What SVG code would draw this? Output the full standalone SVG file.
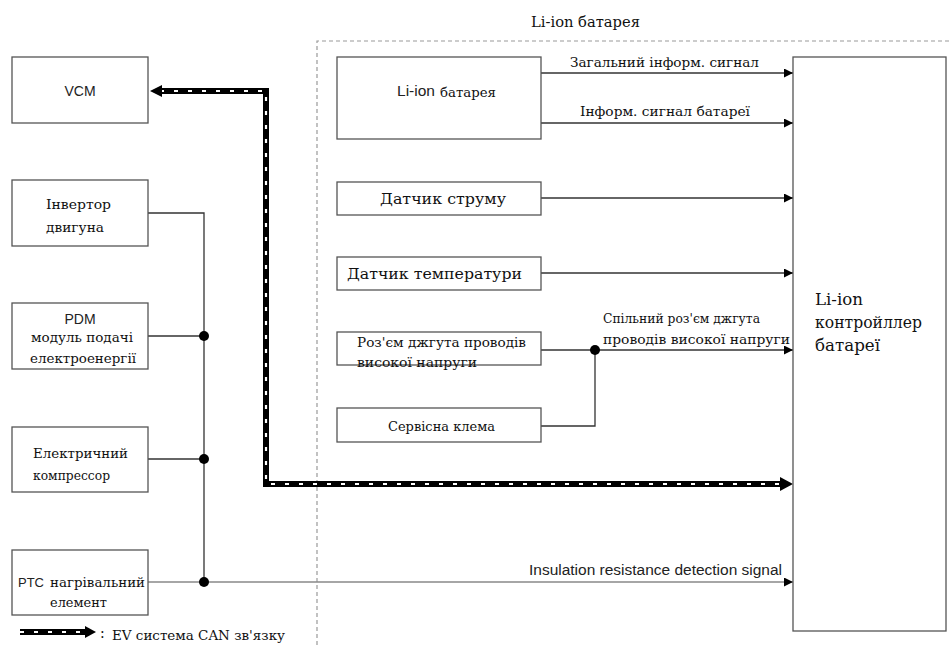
<svg xmlns="http://www.w3.org/2000/svg" width="951" height="645" viewBox="0 0 951 645">
<defs>
<marker id="arr" viewBox="0 0 10 10" refX="10" refY="5" markerWidth="9" markerHeight="9" markerUnits="userSpaceOnUse" orient="auto">
<path d="M0,0 L10,5 L0,10 Z" fill="#000"/>
</marker>
</defs>
<style>
.box{fill:#fff;stroke:#555;stroke-width:1.3}
.ln{fill:none;stroke:#333;stroke-width:1.3}
.gl{fill:none;stroke:#888;stroke-width:1.5}
.can{fill:none;stroke:#000;stroke-width:6}
.canw{fill:none;stroke:#fff;stroke-width:2.2;stroke-dasharray:4 10}
.dot{fill:#000}
.serif{font-family:"DejaVu Serif","Liberation Serif",serif;fill:#111}
.sans{font-family:"Liberation Sans",Arial,sans-serif;fill:#222}
</style>
<rect width="951" height="645" fill="#fff"/>
<path d="M317,645 L317,41 L951,41" fill="none" stroke="#999" stroke-width="1.2" stroke-dasharray="4 3"/>
<text class="serif" x="531" y="27" font-size="15" textLength="109" lengthAdjust="spacingAndGlyphs">Li-ion батарея</text>

<g id="connectors">
<path class="ln" d="M148,213 L204,213 L204,582"/>
<path class="ln" d="M148,336 L204,336"/>
<path class="ln" d="M148,459 L204,459"/>
<path class="gl" d="M148,582 L793,582" marker-end="url(#arr)"/>
<path class="ln" d="M541,73 L793,73" marker-end="url(#arr)"/>
<path class="ln" d="M541,123 L793,123" marker-end="url(#arr)"/>
<path class="ln" d="M541,198 L793,198" marker-end="url(#arr)"/>
<path class="ln" d="M541,273 L793,273" marker-end="url(#arr)"/>
<path class="ln" d="M541,350 L793,350" marker-end="url(#arr)"/>
<path class="ln" d="M541,426 L595,426 L595,350"/>
<circle class="dot" cx="204" cy="336" r="5"/>
<circle class="dot" cx="204" cy="459" r="5"/>
<circle class="dot" cx="204" cy="582" r="5"/>
<circle class="dot" cx="595" cy="350" r="5"/>
<path class="can" d="M160,91 L266,91 L266,484 L782,484"/>
<path class="canw" d="M160,91 L266,91 L266,484 L782,484"/>
<path d="M150,91 L162,85 L162,97 Z" fill="#000"/>
<path d="M793,484 L780,477 L780,491 Z" fill="#000"/>
<text class="serif" x="570" y="67" font-size="13" textLength="189" lengthAdjust="spacingAndGlyphs">Загальний інформ. сигнал</text>
<text class="serif" x="580" y="116" font-size="13" textLength="170" lengthAdjust="spacingAndGlyphs">Інформ. сигнал батареї</text>
<text class="serif" x="603" y="323" font-size="13" textLength="157" lengthAdjust="spacingAndGlyphs">Спільний роз'єм джгута</text>
<text class="serif" x="603" y="344" font-size="13" textLength="187" lengthAdjust="spacingAndGlyphs">проводів високої напруги</text>
<text class="sans" x="529" y="575" font-size="14" textLength="253" lengthAdjust="spacingAndGlyphs">Insulation resistance detection signal</text>
</g>

<g id="vcm">
<rect class="box" x="12" y="57" width="136" height="66"/>
<text class="sans" x="80" y="96" font-size="14" text-anchor="middle">VCM</text>
</g>
<g id="inverter">
<rect class="box" x="12" y="180" width="136" height="66"/>
<text class="serif" x="46" y="209" font-size="13" textLength="65" lengthAdjust="spacingAndGlyphs">Інвертор</text>
<text class="serif" x="46" y="232" font-size="13" textLength="58" lengthAdjust="spacingAndGlyphs">двигуна</text>
</g>
<g id="pdm">
<rect class="box" x="12" y="303" width="136" height="66"/>
<text class="sans" x="80" y="324" font-size="14" text-anchor="middle">PDM</text>
<text class="serif" x="31" y="342" font-size="12.5" textLength="102" lengthAdjust="spacingAndGlyphs">модуль подачі</text>
<text class="serif" x="30" y="363" font-size="12.5" textLength="106" lengthAdjust="spacingAndGlyphs">електроенергії</text>
</g>
<g id="compressor">
<rect class="box" x="12" y="427" width="136" height="65"/>
<text class="serif" x="33" y="458" font-size="13" textLength="95" lengthAdjust="spacingAndGlyphs">Електричний</text>
<text class="serif" x="33" y="480" font-size="13" textLength="77" lengthAdjust="spacingAndGlyphs">компрессор</text>
</g>
<g id="ptc">
<rect class="box" x="12" y="550" width="136" height="65"/>
<text class="sans" x="18" y="587" font-size="13">PTC</text>
<text class="serif" x="50" y="587" font-size="12.5" textLength="95" lengthAdjust="spacingAndGlyphs">нагрівальний</text>
<text class="serif" x="50" y="607" font-size="12.5" textLength="57" lengthAdjust="spacingAndGlyphs">елемент</text>
</g>

<g id="battery">
<rect class="box" x="337" y="57" width="204" height="82"/>
<text class="sans" x="397" y="96" font-size="14" textLength="38" lengthAdjust="spacingAndGlyphs">Li-ion</text>
<text class="serif" x="440" y="97" font-size="13" textLength="56" lengthAdjust="spacingAndGlyphs">батарея</text>
</g>
<g id="current-sensor">
<rect class="box" x="337" y="182" width="204" height="33"/>
<text class="serif" x="380" y="204" font-size="15" textLength="126" lengthAdjust="spacingAndGlyphs">Датчик струму</text>
</g>
<g id="temp-sensor">
<rect class="box" x="337" y="257" width="204" height="33"/>
<text class="serif" x="347" y="279" font-size="15" textLength="175" lengthAdjust="spacingAndGlyphs">Датчик температури</text>
</g>
<g id="hv-connector">
<rect class="box" x="337" y="332" width="204" height="33"/>
<text class="serif" x="357" y="347" font-size="13" textLength="169" lengthAdjust="spacingAndGlyphs">Роз'єм джгута проводів</text>
<text class="serif" x="357" y="367" font-size="13" textLength="120" lengthAdjust="spacingAndGlyphs">високої напруги</text>
</g>
<g id="service-plug">
<rect class="box" x="337" y="408" width="204" height="34"/>
<text class="serif" x="388" y="431" font-size="13" textLength="107" lengthAdjust="spacingAndGlyphs">Сервісна клема</text>
</g>
<g id="controller">
<rect class="box" x="793" y="57" width="153" height="574"/>
<text class="serif" x="815" y="305" font-size="16" textLength="48" lengthAdjust="spacingAndGlyphs">Li-ion</text>
<text class="serif" x="815" y="328" font-size="16" textLength="107" lengthAdjust="spacingAndGlyphs">контройллер</text>
<text class="serif" x="815" y="351" font-size="16" textLength="65" lengthAdjust="spacingAndGlyphs">батареї</text>
</g>

<g id="legend">
<path class="can" d="M20,632 L86,632"/>
<path class="canw" d="M20,632 L86,632"/>
<path d="M96,632 L85,626 L85,638 Z" fill="#000"/>
<text class="serif" x="100" y="638" font-size="14">:</text>
<text class="serif" x="112" y="640" font-size="13" textLength="173" lengthAdjust="spacingAndGlyphs">EV система CAN зв'язку</text>
</g>
</svg>
